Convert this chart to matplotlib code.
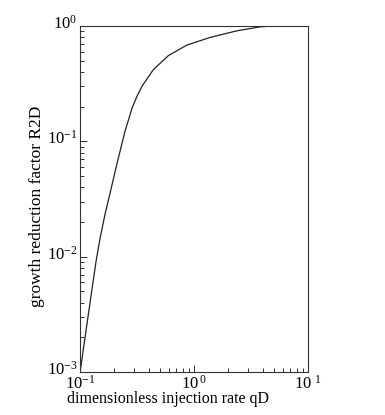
import matplotlib
matplotlib.use("Agg")
import matplotlib.pyplot as plt
from matplotlib.ticker import LogLocator, NullFormatter, FixedLocator
from matplotlib.transforms import ScaledTranslation

qD = [0.1, 0.1084, 0.1176, 0.1274, 0.1382, 0.1498, 0.1657, 0.1833, 0.2112, 0.2481,
      0.2858, 0.3162, 0.3499, 0.4396, 0.5951, 0.863, 1.382, 2.37, 3.793, 4.64, 10.0]
R2D = [0.001, 0.001746, 0.003055, 0.005288, 0.009159, 0.0145, 0.02342, 0.03561, 0.06482, 0.1228,
       0.1944, 0.2471, 0.3017, 0.4195, 0.5548, 0.6843, 0.798, 0.91, 0.986, 1.0, 1.0]

x_ticks = [0.1, 1.0, 10.0]
x_tick_labels = [r"$\mathregular{10^{-1}}$", r"$\mathregular{10^{\,0}}$", r"$\mathregular{10^{\ 1}}$"]
y_ticks = [0.001, 0.01, 0.1, 1.0]
y_tick_labels = [r"$\mathregular{10^{-3}}$", r"$\mathregular{10^{-2}}$", r"$\mathregular{10^{-1}}$", r"$\mathregular{10^{0}}$"]

plt.rcParams['font.family'] = ['Liberation Serif', 'DejaVu Serif']
plt.rcParams['mathtext.fontset'] = 'custom'
plt.rcParams['mathtext.rm'] = 'Liberation Serif'

fig = plt.figure(figsize=(3.85, 4.15), dpi=100)
ax = fig.add_axes([0.208, 0.1036, 0.592, 0.8334])
ax.plot(qD, R2D, color='#222222', linewidth=0.9)
ax.set_xscale('log')
ax.set_yscale('log')
ax.set_xlim(0.1, 10)
ax.set_ylim(0.001, 1)

for s in ax.spines.values():
    s.set_linewidth(0.8)
    s.set_color('#333333')

ax.xaxis.set_major_locator(FixedLocator(x_ticks))
ax.yaxis.set_major_locator(FixedLocator(y_ticks))
ax.xaxis.set_minor_locator(LogLocator(base=10, subs=range(2, 10)))
ax.yaxis.set_minor_locator(LogLocator(base=10, subs=range(2, 10)))
ax.xaxis.set_minor_formatter(NullFormatter())
ax.yaxis.set_minor_formatter(NullFormatter())
ax.tick_params(which='both', direction='in', top=False, right=False, color='#333333', width=0.7)
ax.tick_params(which='major', length=5, pad=2)
ax.tick_params(which='minor', length=3)

ax.set_xticklabels(x_tick_labels, fontsize=12)
ax.set_yticklabels(y_tick_labels, fontsize=12)
shift = ScaledTranslation(0, -2.5 / 100, fig.dpi_scale_trans)
for lbl in ax.get_yticklabels():
    lbl.set_va('baseline')
    lbl.set_transform(lbl.get_transform() + shift)

ax.set_xlabel("dimensionless injection rate qD", fontsize=11.5)
ax.xaxis.set_label_coords(0.386, -0.055)
ax.set_ylabel("growth reduction factor R2D", fontsize=12.5)
ax.yaxis.set_label_coords(-0.155, 0.48)

fig.savefig("out.png", dpi=100)
